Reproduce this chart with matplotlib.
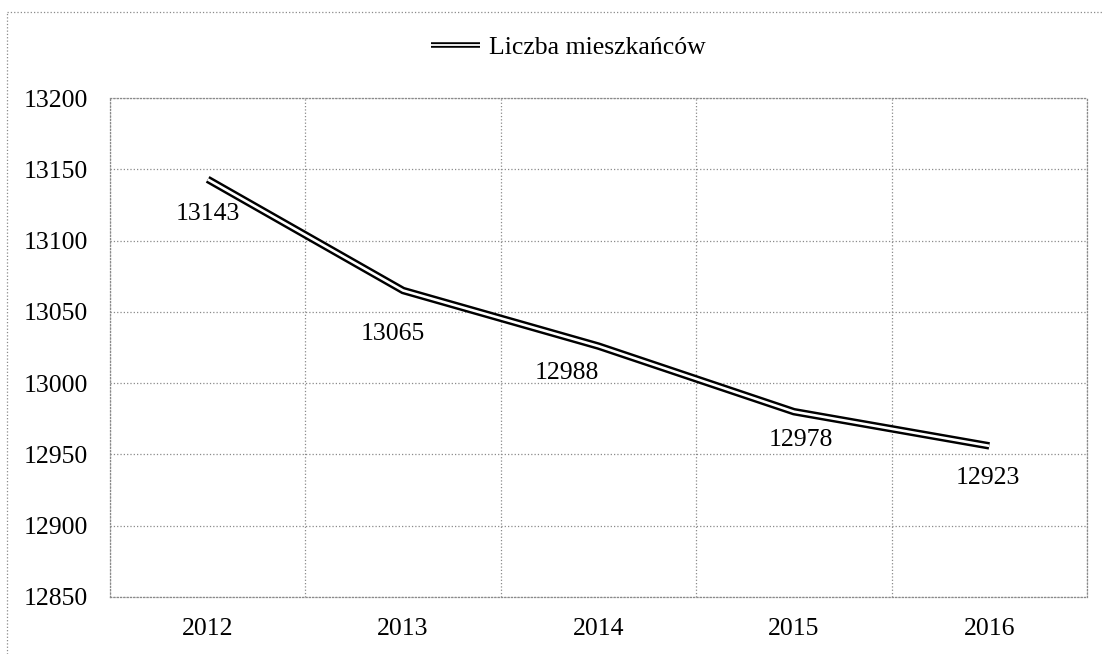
import numpy as np
import matplotlib.pyplot as plt
from matplotlib.lines import Line2D
from matplotlib.legend_handler import HandlerTuple

plt.rcParams['font.family'] = ['Liberation Serif', 'DejaVu Serif']

# data
years = ['2012', '2013', '2014', '2015', '2016']
line_vals = [13143, 13065, 13026, 12980, 12956]   # where the line is drawn
label_txt = ['13143', '13065', '12988', '12978', '12923']  # printed labels
# label offsets from the point (pixels)
lab_dx = [0, -10, -32, 7, -1]
lab_dy = [-35, -43, -27, -28, -32]

fig = plt.figure(figsize=(11.03, 6.54), dpi=100)
ax = fig.add_axes([0.0997, 0.0872, 0.8858, 0.7628])

x = np.arange(len(years))
black, = ax.plot(x, line_vals, color='black', lw=5.4, solid_capstyle='butt',
                 solid_joinstyle='miter', zorder=3)
white, = ax.plot(x, line_vals, color='white', lw=1.9, solid_capstyle='butt',
                 solid_joinstyle='miter', zorder=4)

for i in range(len(years)):
    ax.annotate(label_txt[i], (x[i], line_vals[i]),
                xytext=(lab_dx[i] * 0.72, lab_dy[i] * 0.72),
                textcoords='offset points', ha='center', va='center',
                fontsize=18.5, zorder=5)

ax.set_xlim(-0.5, 4.5)
ax.set_ylim(12850, 13200)
ax.set_yticks(np.arange(12850, 13201, 50))
ax.set_xticks(x)
ax.set_xticklabels(years)
ax.set_xticks(np.arange(-0.5, 4.6, 1), minor=True)
ax.tick_params(axis='both', which='both', length=0, labelsize=18.5)
ax.tick_params(axis='y', pad=16)
ax.tick_params(axis='x', pad=15)

ax.grid(True, axis='y', which='major', color='#8a8a8a', ls=':', lw=0.9)
ax.grid(True, axis='x', which='minor', color='#8a8a8a', ls=':', lw=0.9)
for s in ax.spines.values():
    s.set_color('#8a8a8a')
    s.set_linestyle(':')
    s.set_linewidth(0.9)

leg_black = Line2D([], [], color='black', lw=4.0, solid_capstyle='butt')
leg_white = Line2D([], [], color='white', lw=1.3, solid_capstyle='butt')
ax.legend([(leg_black, leg_white)], ['Liczba mieszkańców'],
          handler_map={tuple: HandlerTuple(ndivide=1, pad=0)},
          loc='center', bbox_to_anchor=(0.515, 0.928),
          bbox_transform=fig.transFigure, frameon=False, fontsize=18.5,
          handlelength=1.9, handletextpad=0.35)

# outer border of the scanned chart (left and top edges)
fig.add_artist(Line2D([7 / 1103, 7 / 1103], [0, 1 - 12 / 654],
                      transform=fig.transFigure, color='#8a8a8a', ls=':', lw=0.9))
fig.add_artist(Line2D([7 / 1103, 1], [1 - 12 / 654, 1 - 12 / 654],
                      transform=fig.transFigure, color='#8a8a8a', ls=':', lw=0.9))

fig.savefig('out.png', dpi=100)
